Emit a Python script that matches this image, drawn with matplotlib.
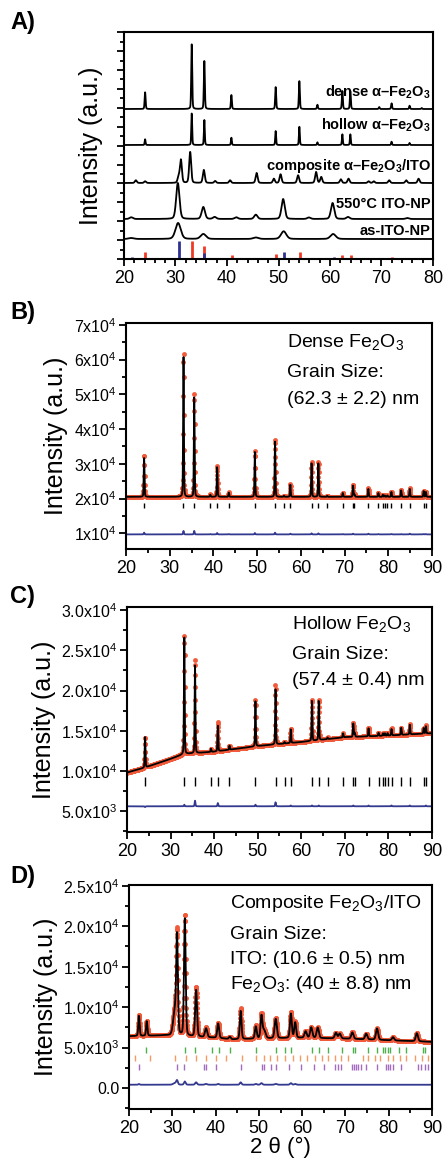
import numpy as np
import matplotlib
matplotlib.use("Agg")
import matplotlib.pyplot as plt
from matplotlib.ticker import MultipleLocator, FuncFormatter, NullFormatter

plt.rcParams['font.family'] = ['Liberation Sans', 'DejaVu Sans']
plt.rcParams['mathtext.fontset'] = 'custom'
plt.rcParams['mathtext.rm'] = 'Liberation Sans'
plt.rcParams['mathtext.default'] = 'regular'

# ---------------- data ----------------
# hematite reflections (2theta)
hem_pos = [24.14, 33.15, 35.61, 39.28, 40.85, 43.52, 49.48, 54.09, 56.15, 57.59,
           62.45, 64.01, 66.03, 69.60, 71.94, 72.26, 75.43, 77.73, 78.76, 79.20,
           79.80, 80.71, 82.94, 84.91, 88.10, 88.60]

# panel A: stacked patterns, heights in relative units
a_dense_pos = [24.1, 33.15, 35.6, 40.85, 49.45, 54.05, 57.55, 62.4, 63.95, 69.55, 71.95, 75.45, 77.8]
a_dense_h = [16.7, 65, 48, 14, 22, 28, 4.3, 18, 18, 2, 5.7, 3.3, 1]
a_hollow_pos = [24.1, 33.15, 35.6, 40.85, 49.45, 54.05, 57.55, 62.4, 63.95, 71.95, 75.45]
a_hollow_h = [5.7, 31.7, 25, 7.3, 14, 18.3, 2.7, 10.7, 10.7, 3.3, 2]
a_comp_pos = [22.3, 24.1, 30.6, 31.05, 32.85, 35.5, 37.7, 40.6, 45.75, 49.1, 50.4,
              53.8, 57.3, 58.3, 62.1, 63.6, 67.5, 68.5, 71.5, 74.8, 77.2]
a_comp_h = [2.7, 1.7, 6, 23, 31, 13, 2, 2.7, 10, 4.3, 8.7, 7.7, 11, 6, 3.7, 4.3, 1.7, 1.7, 2.7, 2.7, 4.3]
a_ito550_pos = [21.4, 30.45, 35.4, 37.6, 41.8, 45.6, 50.9, 55.9, 60.5, 63.5, 75.0]
a_ito550_h = [1.7, 36, 12, 2, 1.7, 4.3, 20, 1.5, 16, 2, 1]
a_itoas_pos = [21.4, 30.5, 35.4, 45.6, 51.0, 60.6]
a_itoas_h = [1, 16, 5, 1.5, 7.7, 5]
ref_ito_pos = [21.5, 30.6, 35.5, 37.7, 41.9, 45.7, 51.0, 55.9, 60.7, 62.2, 64.0, 68.2, 74.2, 76.5]
ref_ito_h = [2.3, 17.7, 6, 1, 1, 1.5, 6.7, 1, 2, 1, 1, 0.7, 0.7, 0.7]
ref_hem_pos = [24.1, 33.2, 35.6, 40.9, 43.5, 49.5, 54.1, 57.6, 62.4, 64.0, 72.0, 75.5, 77.7]
ref_hem_h = [6.7, 17.7, 12.7, 4, 1, 5.3, 7.3, 1.5, 4, 4, 2, 1.5, 1]
a_labels = ['dense α–Fe$_2$O$_3$', 'hollow α–Fe$_2$O$_3$', 'composite α–Fe$_2$O$_3$/ITO',
            '550°C ITO-NP', 'as-ITO-NP']

# panel B: dense Fe2O3 Rietveld
b_bg = 20500
b_obs_h = [12000, 41500, 29800, 700, 9000, 1300, 13300, 16500, 300, 3700, 10000, 10000,
           300, 1200, 3500, 700, 2500, 1200, 600, 400, 400, 1500, 2000, 2500, 1800, 1500]
b_calc_h = [11500, 40500, 28800, 600, 8600, 1200, 12900, 16000, 300, 3500, 9700, 9700,
            300, 1100, 3300, 700, 2300, 1100, 600, 400, 400, 1400, 1900, 2300, 1700, 1400]
b_diff0 = 9700

# panel C: hollow Fe2O3 Rietveld
c_bg_x = [20, 24, 30, 33, 40, 50, 60, 70, 80, 90]
c_bg_y = [9800, 10400, 11500, 12100, 12400, 13100, 13600, 14200, 14400, 14700]
c_obs_h = [3800, 14800, 11700, 400, 3600, 500, 5800, 7400, 200, 1800, 5100, 5000,
           200, 500, 1800, 500, 1100, 400, 300, 300, 300, 900, 900, 1300, 700, 1000]
c_calc_h = [3900, 14600, 11000, 400, 3200, 500, 5600, 6900, 200, 1700, 5000, 4900,
            200, 500, 1700, 500, 1000, 400, 300, 300, 300, 800, 900, 1200, 700, 900]
c_diff0 = 5600

# panel D: composite Fe2O3/ITO Rietveld
d_bg_x = [20, 28, 40, 44, 50, 60, 70, 80, 90]
d_bg_y = [6400, 6500, 6200, 6000, 6100, 6200, 6100, 5900, 5700]
d_pos = [22.3, 24.1, 30.6, 31.1, 32.9, 35.5, 37.8, 40.6, 43.3, 45.8, 49.3, 50.6, 51.2,
         53.9, 57.4, 58.4, 60.8, 62.1, 63.6, 67.8, 68.7, 71.6, 74.8, 77.3, 81.0, 86.5]
d_fwhm = [0.35, 0.35, 0.9, 0.45, 0.45, 0.5, 0.6, 0.5, 0.5, 0.45, 0.5, 0.5, 0.8,
          0.6, 0.5, 0.5, 0.6, 0.6, 0.6, 0.6, 0.6, 0.6, 0.6, 0.6, 0.6, 0.6]
d_obs_h = [2600, 1800, 3200, 12000, 15000, 6100, 1200, 1900, 300, 3800, 1600, 2900, 1000,
           2500, 3200, 2000, 800, 1300, 1300, 700, 600, 800, 700, 1400, 400, 1000]
d_calc_h = [2500, 1800, 3000, 11500, 14600, 5800, 1100, 1800, 300, 3500, 1500, 2700, 1000,
            2400, 3000, 1900, 800, 1300, 1300, 700, 600, 800, 700, 1400, 400, 1000]
d_diff0 = 400
d_green = [24.0, 33.0, 35.2, 39.2, 40.8, 43.3, 49.3, 53.9, 56.1, 57.4, 62.3, 63.8, 65.9,
           69.3, 71.8, 72.1, 75.1, 77.4, 78.7, 79.2, 79.8, 80.3, 82.4, 84.0, 88.0, 88.3]
d_orange = [21.5, 24.9, 30.6, 33.1, 35.5, 37.8, 40.0, 42.4, 46.2, 49.4, 51.2, 52.6, 54.3,
            56.0, 57.9, 59.5, 61.1, 62.9, 64.6, 66.0, 67.5, 68.9, 70.6, 74.0, 75.2, 76.8,
            77.9, 79.8, 81.0, 82.5, 84.0, 86.0, 87.7, 89.0]
d_purple = [22.4, 31.2, 32.8, 37.3, 37.9, 40.2, 45.9, 50.7, 51.3, 52.9, 54.0, 56.9, 59.8,
            62.7, 65.1, 67.7, 68.3, 68.9, 71.5, 72.0, 72.5, 72.9, 73.7, 74.8, 77.3, 79.3,
            79.8, 80.3, 81.0, 82.9, 86.7, 87.5, 88.3, 89.0]

b_text = ['Dense Fe$_2$O$_3$', 'Grain Size:', '(62.3 ± 2.2) nm']
c_text = ['Hollow Fe$_2$O$_3$', 'Grain Size:', '(57.4 ± 0.4) nm']
d_text = ['Composite Fe$_2$O$_3$/ITO', 'Grain Size:', 'ITO: (10.6 ± 0.5) nm',
          'Fe$_2$O$_3$: (40 ± 8.8) nm']

RED = '#f15a3a'
NAVY = '#33398f'
W, H = 443, 1161


def profile(x, pos, height, fwhm):
    y = np.zeros_like(x)
    fw = np.broadcast_to(fwhm, (len(pos),))
    for c, h, w in zip(pos, height, fw):
        u = (x - c) / w
        y += h * (0.75 * np.exp(-4 * np.log(2) * u ** 2) + 0.25 / (1 + 4 * u ** 2))
    return y


def make_axes(l, r, t, b):
    ax = fig.add_axes([l / W, 1 - b / H, (r - l) / W, (b - t) / H])
    for s in ax.spines.values():
        s.set_linewidth(1.5)
    ax.tick_params(which='both', direction='out', width=1.3, top=False, right=False)
    ax.tick_params(which='major', length=5)
    ax.tick_params(which='minor', length=3)
    ax.tick_params(axis='x', labelsize=13, pad=3)
    ax.tick_params(axis='y', labelsize=11.5, pad=2)
    return ax


def sci(v, digits):
    if abs(v) < 1e-9:
        return '0.0'
    if v < 0:
        return ''
    e = int(np.floor(np.log10(v) + 1e-9))
    m = v / 10 ** e
    return ('%.*fx10$^{%d}$' % (digits, m, e))


fig = plt.figure(figsize=(W / 100, H / 100), dpi=100)

# ---------------- A ----------------
ax = make_axes(124, 433, 32, 259)
xa = np.arange(20, 80.001, 0.02)
bases = [150, 114, 76, 40, 20]
sets = [(a_dense_pos, a_dense_h, 0.22), (a_hollow_pos, a_hollow_h, 0.2),
        (a_comp_pos, a_comp_h, 0.45), (a_ito550_pos, a_ito550_h, 0.75),
        (a_itoas_pos, a_itoas_h, 1.2)]
lab_y = [162, 129, 89, 51, 24]
for (p, h, w), b0, ly, lab in zip(sets, bases, lab_y, a_labels):
    ax.plot(xa, b0 + profile(xa, p, h, w), color='black', lw=1.3)
    ax.text(79.6, ly, lab, ha='right', va='baseline', fontsize=10.5, fontweight='bold')
ax.vlines(ref_hem_pos, 0, ref_hem_h, color='#ef3b24', lw=2)
ax.vlines(ref_ito_pos, 0, ref_ito_h, color='#2e3192', lw=2)
ax.set_xlim(20, 80)
ax.set_ylim(0, 227)
ax.xaxis.set_major_locator(MultipleLocator(10))
ax.xaxis.set_minor_locator(MultipleLocator(2))
ax.yaxis.set_major_locator(MultipleLocator(18.9))
ax.yaxis.set_minor_locator(MultipleLocator(9.45))
ax.yaxis.set_major_formatter(NullFormatter())
ax.set_ylabel('Intensity (a.u.)', fontsize=18, labelpad=8)

# ---------------- B ----------------
x = np.arange(20, 90.001, 0.04)
ax = make_axes(126, 432, 323, 549)
obs = b_bg + profile(x, hem_pos, b_obs_h, 0.2)
calc = b_bg + profile(x, hem_pos, b_calc_h, 0.2)
ax.plot(x, obs, 'o', color=RED, ms=3.5, mew=0)
ax.plot(x, calc, color='black', lw=1.3)
ax.plot(x, obs - calc + b_diff0, color=NAVY, lw=1.3)
ax.vlines(hem_pos, 17200, 18600, color='black', lw=1)
ax.set_xlim(20, 90)
ax.set_ylim(5500, 70500)
ax.xaxis.set_major_locator(MultipleLocator(10))
ax.xaxis.set_minor_locator(MultipleLocator(5))
ax.yaxis.set_major_locator(MultipleLocator(10000))
ax.yaxis.set_minor_locator(MultipleLocator(5000))
ax.yaxis.set_major_formatter(FuncFormatter(lambda v, p: sci(v, 0)))
ax.set_ylabel('Intensity (a.u.)', fontsize=18, labelpad=4)
for txt, yy in zip(b_text, [0.894, 0.761, 0.642]):
    ax.text(0.526, yy, txt, transform=ax.transAxes, fontsize=14, va='baseline')

# ---------------- C ----------------
ax = make_axes(127, 432, 607, 832)
bg = np.interp(x, c_bg_x, c_bg_y)
obs = bg + profile(x, hem_pos, c_obs_h, 0.2)
calc = bg + profile(x, hem_pos, c_calc_h, 0.2)
ax.plot(x, obs, 'o', color=RED, ms=3.5, mew=0)
ax.plot(x, calc, color='black', lw=1.3)
ax.plot(x, obs - calc + c_diff0, color=NAVY, lw=1.3)
ax.vlines(hem_pos, 8100, 9200, color='black', lw=1)
ax.set_xlim(20, 90)
ax.set_ylim(2400, 30400)
ax.xaxis.set_major_locator(MultipleLocator(10))
ax.xaxis.set_minor_locator(MultipleLocator(5))
ax.yaxis.set_major_locator(MultipleLocator(5000))
ax.yaxis.set_minor_locator(MultipleLocator(2500))
ax.yaxis.set_major_formatter(FuncFormatter(lambda v, p: sci(v, 1)))
ax.set_ylabel('Intensity (a.u.)', fontsize=18, labelpad=4)
for txt, yy in zip(c_text, [0.902, 0.769, 0.653]):
    ax.text(0.541, yy, txt, transform=ax.transAxes, fontsize=14, va='baseline')

# ---------------- D ----------------
ax = make_axes(129, 432, 885, 1109)
bg = np.interp(x, d_bg_x, d_bg_y)
obs = bg + profile(x, d_pos, d_obs_h, d_fwhm)
calc = bg + profile(x, d_pos, d_calc_h, d_fwhm)
ax.plot(x, obs, 'o', color=RED, ms=3.5, mew=0)
ax.plot(x, calc, color='black', lw=1.3)
ax.plot(x, obs - calc + d_diff0, color=NAVY, lw=1.3)
ax.vlines(d_green, 4300, 5100, color='#4cb04c', lw=1)
ax.vlines(d_orange, 3300, 4100, color='#f59a60', lw=1)
ax.vlines(d_purple, 2200, 3000, color='#a46cc0', lw=1)
ax.set_xlim(20, 90)
ax.set_ylim(-2600, 25100)
ax.xaxis.set_major_locator(MultipleLocator(10))
ax.xaxis.set_minor_locator(MultipleLocator(5))
ax.yaxis.set_major_locator(MultipleLocator(5000))
ax.yaxis.set_minor_locator(MultipleLocator(2500))
ax.yaxis.set_major_formatter(FuncFormatter(lambda v, p: sci(v, 1)))
ax.set_ylabel('Intensity (a.u.)', fontsize=18, labelpad=4)
ax.set_xlabel('2 θ (°)', fontsize=16, labelpad=0)
for txt, yy in zip(d_text, [0.897, 0.759, 0.647, 0.536]):
    ax.text(0.333, yy, txt, transform=ax.transAxes, fontsize=14, va='baseline')

# panel letters
for letter, yc in zip(['A)', 'B)', 'C)', 'D)'], [23, 313, 596, 877]):
    fig.text(10 / W, 1 - yc / H, letter, fontsize=17, fontweight='bold', va='center')

fig.savefig('out.png', dpi=100)
